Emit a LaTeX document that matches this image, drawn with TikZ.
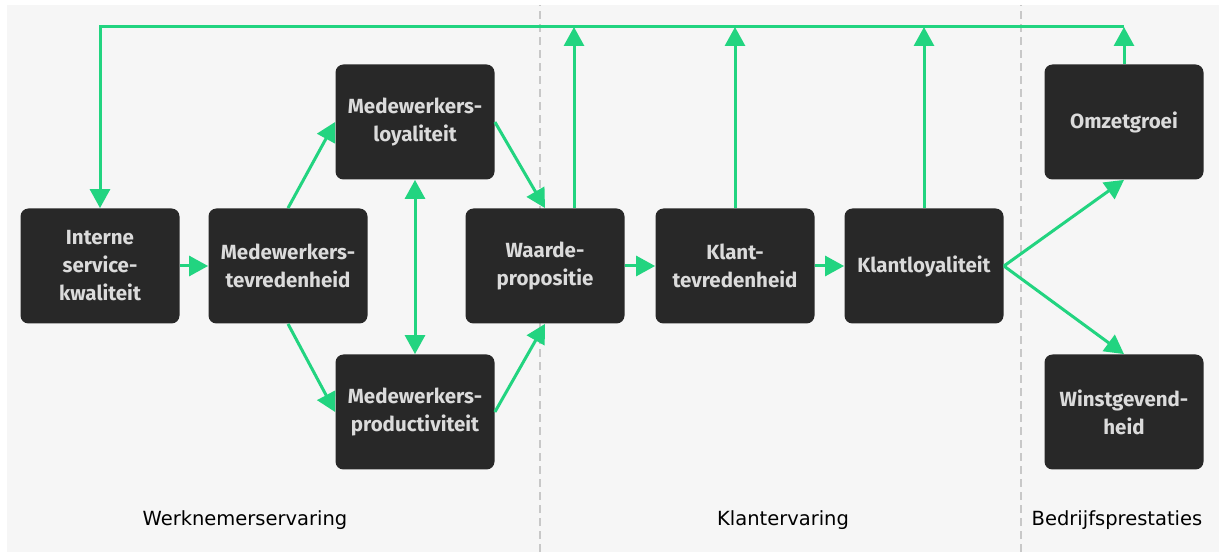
\documentclass[tikz,border=0pt]{standalone}
\usepackage{fontspec}
\usepackage{tikz}
\usetikzlibrary{arrows.meta}
\newfontfamily\boxfont{Fira Sans}
\newfontfamily\labelfont{DejaVu Sans}
\definecolor{flowgreen}{RGB}{34,212,128}
\definecolor{boxgrey}{RGB}{40,40,40}
\definecolor{bggrey}{RGB}{246,246,246}
\definecolor{dashgrey}{RGB}{200,200,200}
\tikzset{
	stap/.style={draw=none, fill=boxgrey, rounded corners=8pt, minimum width=159pt,
		minimum height=115pt, text=white!86!black, align=center,
		font=\boxfont\bfseries\fontsize{20.5}{28}\selectfont},
	pijl/.style={draw=flowgreen, line width=3pt, -{Triangle[length=19pt,width=20pt]}},
	fase/.style={font=\labelfont\fontsize{19.5}{24}\selectfont, text=black}
}

\begin{document}
\begin{tikzpicture}[
		x=1pt,
		y=1pt,
		thick
	]
		\useasboundingbox (0,0) rectangle (1219,552);
		\fill[white] (0,0) rectangle (1219,552);
		\fill[bggrey] (7,0) rectangle (1219,547);
		\draw[dashgrey, line width=2pt, dash pattern=on 8pt off 5pt] (540,0) -- (540,547);
		\draw[dashgrey, line width=2pt, dash pattern=on 8pt off 5pt] (1021,0) -- (1021,547);

		% stappen
		\node[stap] (isk) at (100,286) {Interne\\service-\\kwaliteit};
		\node[stap] (mtv) at (288,286) {Medewerkers-\\tevredenheid};
		\node[stap] (mlo) at (415,430) {Medewerkers-\\loyaliteit};
		\node[stap] (mpr) at (415,140) {Medewerkers-\\productiviteit};
		\node[stap] (wpr) at (545,286) {Waarde-\\propositie};
		\node[stap] (ktv) at (735,286) {Klant-\\tevredenheid};
		\node[stap] (klo) at (924,286) {Klantloyaliteit};
		\node[stap] (omz) at (1124,430) {Omzetgroei};
		\node[stap] (wst) at (1124,140) {Winstgevend-\\heid};

		\coordinate (top) at (0,525);
		\coordinate (wtop) at (574,525);

		\draw[pijl] (isk) -- (mtv);
		\draw[pijl] (mtv.north) -- (mlo.west);
		\draw[pijl] (mtv.south) -- (mpr.west);
		\draw[pijl, {Triangle[length=19pt,width=20pt]}-{Triangle[length=19pt,width=20pt]}] (mlo.south) -- (mpr.north);
		\draw[pijl] (mlo.east) -- (wpr.north);
		\draw[pijl] (mpr.east) -- (wpr.south);
		\draw[pijl] (wpr) -- (ktv);
		\draw[pijl] (ktv) -- (klo);
		\draw[pijl] (klo.east) -- (omz.south);
		\draw[pijl] (klo.east) -- (wst.north);

		% terugkoppeling bovenaan
		\draw[pijl] (omz.north |- top) -- (isk.north |- top) -- (isk.north);
		\draw[pijl] (wpr.north -| wtop) -- (wtop);
		\draw[pijl] (ktv.north) -- (ktv.north |- top);
		\draw[pijl] (klo.north) -- (klo.north |- top);
		\draw[pijl] (omz.north) -- (omz.north |- top);

		% fasen
		\node[fase] (werk) at (245,32) {Werknemerservaring};
		\node[fase] (klant) at (783,32) {Klantervaring};
		\node[fase] (bedr) at (1117,32) {Bedrijfsprestaties};
	\end{tikzpicture}
\end{document}
